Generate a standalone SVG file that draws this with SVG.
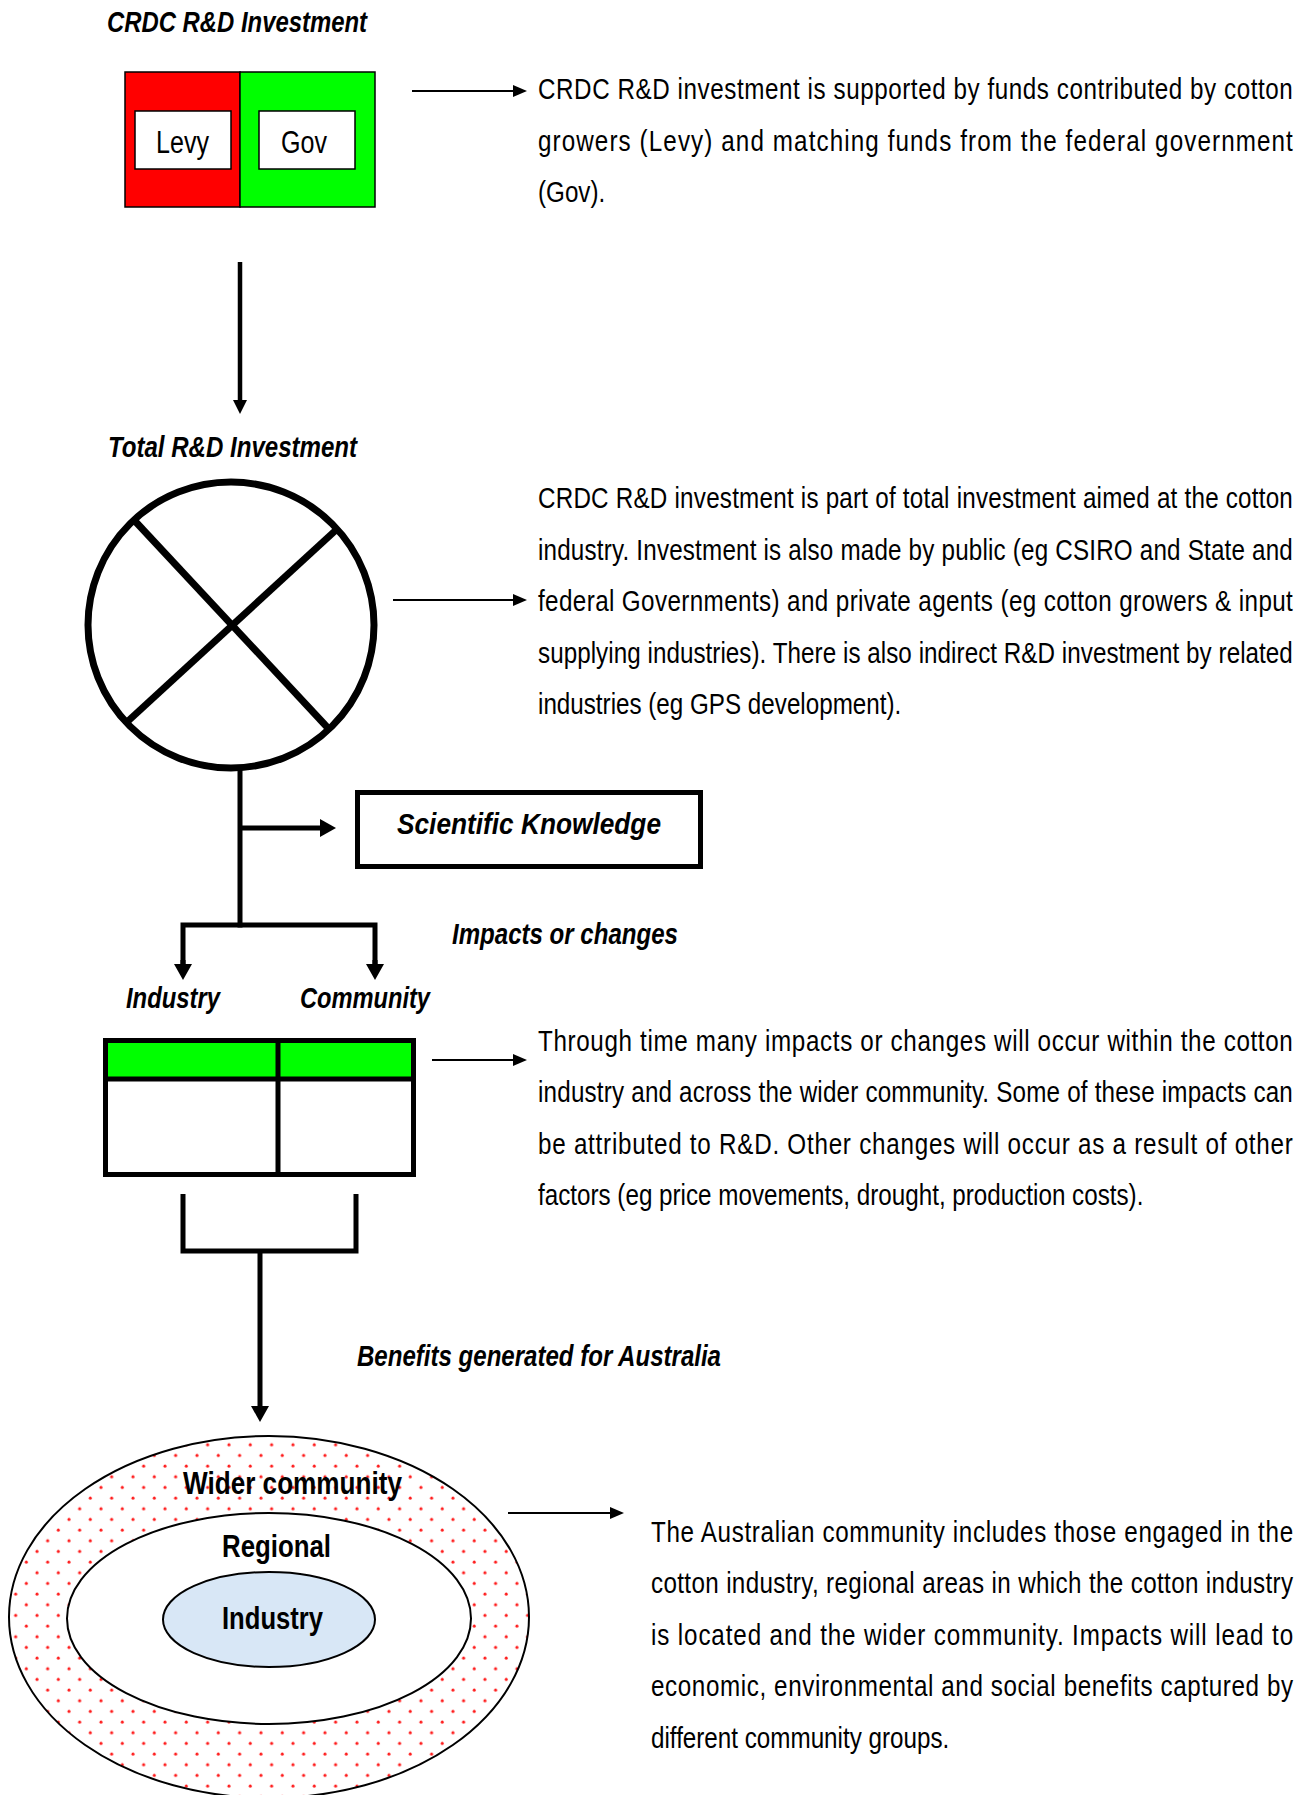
<svg xmlns="http://www.w3.org/2000/svg" width="1306" height="1795" viewBox="0 0 1306 1795">
<style>
  .body{font-family:"Liberation Sans",Arial,sans-serif;font-size:29px;fill:#000}
  .lbl{font-family:"Liberation Sans",Arial,sans-serif;font-size:30px;font-weight:bold;font-style:italic;fill:#000}
  .lblb{font-family:"Liberation Sans",Arial,sans-serif;font-size:31px;font-weight:bold;fill:#000}
  .box{font-family:"Liberation Sans",Arial,sans-serif;font-size:31px;fill:#000}
  .thin{stroke:#000;stroke-width:2;fill:none}
  .thick{stroke:#000;stroke-width:5;fill:none}
  .med{stroke:#000;stroke-width:4.5;fill:none}
</style>
<defs>
  <marker id="ahThin" markerUnits="userSpaceOnUse" markerWidth="14" markerHeight="12" refX="0" refY="6" orient="auto">
    <path d="M0,0 L14,6 L0,12 z" fill="#000"/>
  </marker>
  <marker id="ahThick" markerUnits="userSpaceOnUse" markerWidth="16" markerHeight="18" refX="0" refY="9" orient="auto">
    <path d="M0,0 L16,9 L0,18 z" fill="#000"/>
  </marker>
  <marker id="ahMed" markerUnits="userSpaceOnUse" markerWidth="14" markerHeight="14" refX="0" refY="7" orient="auto">
    <path d="M0,0 L14,7 L0,14 z" fill="#000"/>
  </marker>
  <pattern id="dots" patternUnits="userSpaceOnUse" width="21.33" height="21.33">
    <rect width="21.33" height="21.33" fill="#fff"/>
    <circle cx="5" cy="5" r="1.5" fill="#ff1a1a"/>
    <circle cx="15.67" cy="15.67" r="1.5" fill="#ff1a1a"/>
  </pattern>
</defs>
<rect width="1306" height="1795" fill="#fff"/>

<g id="crdc-investment">
  <text class="lbl" x="107" y="32" textLength="260" lengthAdjust="spacingAndGlyphs">CRDC R&amp;D Investment</text>
  <rect x="125" y="72" width="115" height="135" fill="#ff0000" stroke="#000" stroke-width="1.5"/>
  <rect x="240" y="72" width="135" height="135" fill="#00ff00" stroke="#000" stroke-width="1.5"/>
  <rect x="135" y="111" width="96" height="58" fill="#fff" stroke="#000" stroke-width="1.5"/>
  <rect x="259" y="111" width="96" height="58" fill="#fff" stroke="#000" stroke-width="1.5"/>
  <text class="box" x="156" y="153" textLength="53" lengthAdjust="spacingAndGlyphs">Levy</text>
  <text class="box" x="281" y="153" textLength="46" lengthAdjust="spacingAndGlyphs">Gov</text>
</g>

<g id="text-crdc" transform="translate(538,0) scale(0.835,1)">
  <text class="body" x="0" y="99" textLength="904" lengthAdjust="spacing">CRDC R&amp;D investment is supported by funds contributed by cotton</text>
  <text class="body" x="0" y="151" textLength="904" lengthAdjust="spacing">growers (Levy) and matching funds from the federal government</text>
  <text class="body" x="0" y="202">(Gov).</text>
</g>

<g id="total-investment">
  <text class="lbl" x="108" y="457" textLength="249" lengthAdjust="spacingAndGlyphs">Total R&amp;D Investment</text>
  <circle cx="231" cy="625" r="143" fill="#fff" stroke="#000" stroke-width="7"/>
  <line x1="134" y1="520" x2="327" y2="727" stroke="#000" stroke-width="7"/>
  <line x1="336" y1="530" x2="127" y2="722" stroke="#000" stroke-width="7"/>
</g>

<g id="text-total" transform="translate(538,0) scale(0.835,1)">
  <text class="body" x="0" y="508" textLength="904" lengthAdjust="spacing">CRDC R&amp;D investment is part of total investment aimed at the cotton</text>
  <text class="body" x="0" y="560" textLength="904" lengthAdjust="spacing">industry. Investment is also made by public (eg CSIRO and State and</text>
  <text class="body" x="0" y="611" textLength="904" lengthAdjust="spacing">federal Governments) and private agents (eg cotton growers &amp; input</text>
  <text class="body" x="0" y="663" textLength="904" lengthAdjust="spacing">supplying industries). There is also indirect R&amp;D investment by related</text>
  <text class="body" x="0" y="714">industries (eg GPS development).</text>
</g>

<g id="scientific-knowledge">
  <rect x="357.5" y="792.5" width="343" height="74" fill="#fff" stroke="#000" stroke-width="5"/>
  <text class="lbl" x="397" y="834" textLength="264" lengthAdjust="spacingAndGlyphs">Scientific Knowledge</text>
</g>

<g id="impacts-label">
  <text class="lbl" x="452" y="944" textLength="226" lengthAdjust="spacingAndGlyphs">Impacts or changes</text>
</g>

<g id="impacts-table">
  <text class="lbl" x="126" y="1008" textLength="94" lengthAdjust="spacingAndGlyphs">Industry</text>
  <text class="lbl" x="300" y="1008" textLength="130" lengthAdjust="spacingAndGlyphs">Community</text>
  <rect x="105.5" y="1040.5" width="308" height="134" fill="#fff" stroke="#000" stroke-width="5"/>
  <rect x="108" y="1043" width="303" height="36" fill="#00ff00"/>
  <line x1="105.5" y1="1079" x2="413.5" y2="1079" stroke="#000" stroke-width="5"/>
  <line x1="278" y1="1040.5" x2="278" y2="1174.5" stroke="#000" stroke-width="5"/>
</g>

<g id="text-impacts" transform="translate(538,0) scale(0.835,1)">
  <text class="body" x="0" y="1051" textLength="904" lengthAdjust="spacing">Through time many impacts or changes will occur within the cotton</text>
  <text class="body" x="0" y="1102" textLength="904" lengthAdjust="spacing">industry and across the wider community. Some of these impacts can</text>
  <text class="body" x="0" y="1154" textLength="904" lengthAdjust="spacing">be attributed to R&amp;D. Other changes will occur as a result of other</text>
  <text class="body" x="0" y="1205">factors (eg price movements, drought, production costs).</text>
</g>

<g id="benefits-label">
  <text class="lbl" x="357" y="1366" textLength="364" lengthAdjust="spacingAndGlyphs">Benefits generated for Australia</text>
</g>

<g id="community-rings">
  <ellipse cx="269" cy="1617" rx="260" ry="181" fill="url(#dots)" stroke="#000" stroke-width="2"/>
  <ellipse cx="269" cy="1618.5" rx="202" ry="105.5" fill="#fff" stroke="#000" stroke-width="2"/>
  <ellipse cx="269" cy="1619.5" rx="106" ry="47.5" fill="#d8e7f6" stroke="#000" stroke-width="2"/>
  <text class="lblb" x="183" y="1494" textLength="219" lengthAdjust="spacingAndGlyphs">Wider community</text>
  <text class="lblb" x="222" y="1557" textLength="109" lengthAdjust="spacingAndGlyphs">Regional</text>
  <text class="lblb" x="222" y="1629" textLength="101" lengthAdjust="spacingAndGlyphs">Industry</text>
</g>

<g id="text-community" transform="translate(651,0) scale(0.835,1)">
  <text class="body" x="0" y="1542" textLength="769" lengthAdjust="spacing">The Australian community includes those engaged in the</text>
  <text class="body" x="0" y="1593" textLength="769" lengthAdjust="spacing">cotton industry, regional areas in which the cotton industry</text>
  <text class="body" x="0" y="1645" textLength="769" lengthAdjust="spacing">is located and the wider community. Impacts will lead to</text>
  <text class="body" x="0" y="1696" textLength="769" lengthAdjust="spacing">economic, environmental and social benefits captured by</text>
  <text class="body" x="0" y="1748">different community groups.</text>
</g>

<g id="connectors">
  <line class="thin" x1="412" y1="91" x2="513" y2="91" marker-end="url(#ahThin)"/>
  <line class="thin" x1="393" y1="600" x2="513" y2="600" marker-end="url(#ahThin)"/>
  <line class="thin" x1="432" y1="1060" x2="513" y2="1060" marker-end="url(#ahThin)"/>
  <line class="thin" x1="508" y1="1513" x2="610" y2="1513" marker-end="url(#ahThin)"/>
  <line class="med" x1="240" y1="262" x2="240" y2="400" marker-end="url(#ahMed)"/>
  <line class="thick" x1="240" y1="768" x2="240" y2="927.5"/>
  <line class="thick" x1="240" y1="828" x2="320" y2="828" marker-end="url(#ahThick)"/>
  <path class="thick" d="M183,964 V925 H375 V964"/>
  <line class="thick" x1="183" y1="960" x2="183" y2="964" marker-end="url(#ahThick)"/>
  <line class="thick" x1="375" y1="960" x2="375" y2="964" marker-end="url(#ahThick)"/>
  <path class="thick" d="M183,1194 V1251 H356 V1194"/>
  <line class="thick" x1="260" y1="1251" x2="260" y2="1406" marker-end="url(#ahThick)"/>
</g>
</svg>
